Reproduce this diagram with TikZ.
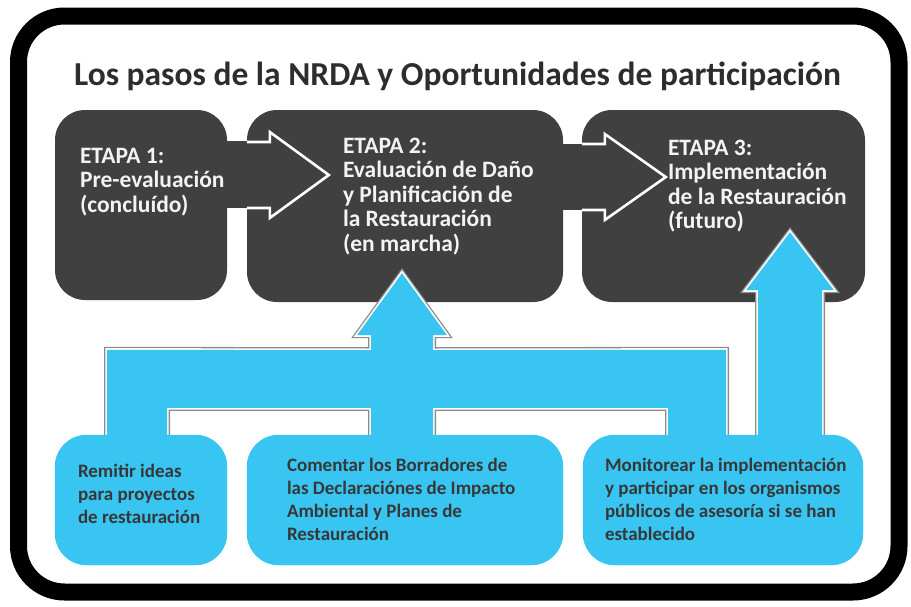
\documentclass[tikz,border=0pt]{standalone}
\usepackage{fontspec}
\setmainfont{Carlito}
\usetikzlibrary{calc}
\definecolor{darkbox}{RGB}{64,64,64}
\definecolor{bluebox}{RGB}{57,197,241}
\definecolor{bluetext}{RGB}{55,55,55}
\definecolor{stagetext}{RGB}{243,243,243}
\definecolor{titletext}{RGB}{45,45,45}
\definecolor{edgegray}{RGB}{140,140,140}
\begin{document}
\begin{tikzpicture}[x=1pt,y=-1pt,
  stagebox/.style={fill=darkbox, rounded corners=30pt, inner sep=0pt},
  bluenode/.style={fill=bluebox, rounded corners=32pt, inner sep=0pt},
  stagelabel/.style={anchor=north west, inner sep=0pt, align=left, text=stagetext,
    font=\bfseries\fontsize{23.5}{24.5}\selectfont},
  bluelabel/.style={anchor=north west, inner sep=0pt, align=left, text=bluetext,
    font=\bfseries\fontsize{19}{23}\selectfont},
  openarrow/.style={draw=white, line width=2.6pt, line join=miter},
  blueshape/.style={preaction={draw=edgegray, line width=6pt},
    preaction={draw=white, line width=3.4pt}, fill=bluebox}]
\useasboundingbox (0,0) rectangle (911,606);
\fill[white] (0,0) rectangle (911,606);
\draw[line width=17pt, rounded corners=46pt] (18.5,16) rectangle (899,592);

\node[anchor=base, inner sep=0pt, text=titletext, font=\bfseries\fontsize{33.5}{38}\selectfont]
  (title) at (457.5,85) {Los pasos de la NRDA y Oportunidades de participación};

% stage boxes
\node[stagebox, minimum width=172pt, minimum height=190pt] (b1) at (141,205) {};
\node[stagebox, minimum width=316pt, minimum height=192pt] (b2) at (405,206) {};
\node[stagebox, minimum width=283pt, minimum height=192pt] (b3) at (723.5,206) {};

% blue boxes
\node[bluenode, minimum width=172pt, minimum height=130pt] (bl1) at (141,500) {};
\node[bluenode, minimum width=316pt, minimum height=130pt] (bl2) at (405,500) {};
\node[bluenode, minimum width=280pt, minimum height=130pt] (bl3) at (723,500) {};

% stage arrows
\coordinate (a1) at ($(b2.west)+(0,-31)$);
\coordinate (a2) at ($(b3.west)+(0,-29)$);
\fill[darkbox] ($(b1.east)+(-5,-64)$) rectangle ($(a1)+(2,33)$);
\fill[darkbox] ($(b2.east)+(-5,-62)$) rectangle ($(a2)+(2,33)$);
\draw[openarrow] ($(a1)+(0,-33)$) -- ($(a1)+(23,-33)$) -- ($(a1)+(23,-43)$) -- ($(a1)+(82,0)$)
  -- ($(a1)+(23,43)$) -- ($(a1)+(23,33)$) -- ($(a1)+(0,33)$);
\draw[openarrow] ($(a2)+(0,-33)$) -- ($(a2)+(23,-33)$) -- ($(a2)+(23,-43)$) -- ($(a2)+(84,0)$)
  -- ($(a2)+(23,43)$) -- ($(a2)+(23,33)$) -- ($(a2)+(0,33)$);

% blue connectors
\coordinate (L1) at ($(bl1.north)+(-4,0)$);
\coordinate (L2) at ($(bl2.north)+(-3,0)$);
\coordinate (L3) at ($(bl3.north)+(-26,0)$);
\coordinate (L4) at ($(bl3.north)+(67,0)$);
\coordinate (T2) at ($(b2.south)+(-3,-29)$);
\coordinate (T3) at ($(b3.south)+(66.5,-70)$);
\path[blueshape] ($(L1)+(-30,15)$) -- ($(L1)+(-30,-85)$) -- ($(T2)+(-31,77)$) -- ($(T2)+(-31,62)$)
  -- ($(T2)+(-45,62)$) -- (T2) -- ($(T2)+(45,62)$) -- ($(T2)+(31,62)$) -- ($(T2)+(31,77)$)
  -- ($(L3)+(29,-85)$) -- ($(L3)+(29,15)$) -- ($(L3)+(-29,15)$) -- ($(L3)+(-29,-27)$)
  -- ($(L2)+(31,-27)$) -- ($(L2)+(31,15)$) -- ($(L2)+(-31,15)$) -- ($(L2)+(-31,-27)$)
  -- ($(L1)+(30,-27)$) -- ($(L1)+(30,15)$) -- cycle;
\path[blueshape] ($(L4)+(-32,15)$) -- ($(T3)+(-32,58)$) -- ($(T3)+(-44,58)$) -- (T3)
  -- ($(T3)+(44,58)$) -- ($(T3)+(32,58)$) -- ($(L4)+(32,15)$) -- cycle;

% redraw blue boxes on top
\fill[bluebox, rounded corners=32pt] (bl1.south west) rectangle (bl1.north east);
\fill[bluebox, rounded corners=32pt] (bl2.south west) rectangle (bl2.north east);
\fill[bluebox, rounded corners=32pt] (bl3.south west) rectangle (bl3.north east);

% stage labels
\node[stagelabel] (s1) at ($(b1.north west)+(25,38)$) {ETAPA 1:\\Pre-evaluación\\(concluído)};
\node[stagelabel] (s2) at ($(b2.north west)+(96,28)$) {ETAPA 2:\\Evaluación de Daño\\y Planificación de\\la Restauración\\(en marcha)};
\node[stagelabel] (s3) at ($(b3.north west)+(86,30)$) {ETAPA 3:\\Implementación\\de la Restauración\\(futuro)};

% blue labels
\node[bluelabel] (p1) at ($(bl1.north west)+(23,29)$) {Remitir ideas\\para proyectos\\de restauración};
\node[bluelabel] (p2) at ($(bl2.north west)+(40,23)$) {Comentar los Borradores de\\las Declaraciónes de Impacto\\Ambiental y Planes de\\Restauración};
\node[bluelabel] (p3) at ($(bl3.north west)+(22,23)$) {Monitorear la implementación\\y participar en los organismos\\públicos de asesoría si se han\\establecido};
\end{tikzpicture}
\end{document}
